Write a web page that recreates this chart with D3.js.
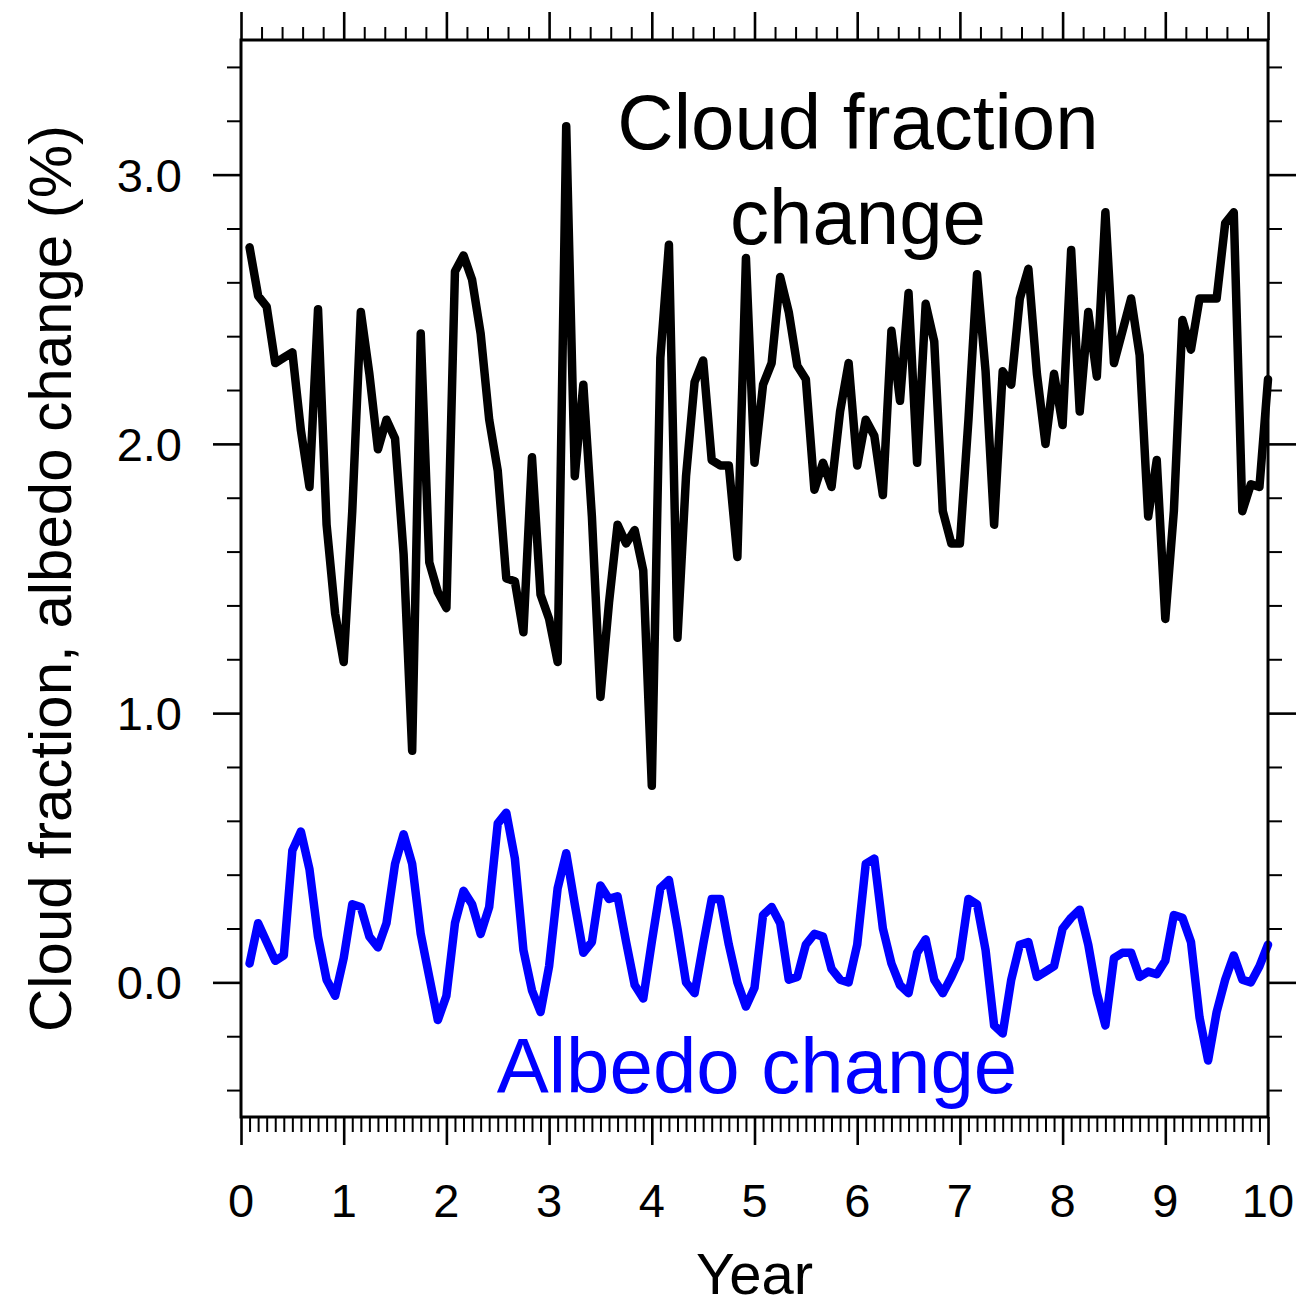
<!DOCTYPE html>
<html>
<head>
<meta charset="utf-8">
<script src="https://cdn.jsdelivr.net/npm/d3@7"></script>
<style>
  html, body { margin: 0; padding: 0; background: #fff; }
  svg { display: block; }
  text { font-family: "Liberation Sans", Arial, Helvetica, sans-serif; }
</style>
</head>
<body>
<svg id="chart" width="1313" height="1307"></svg>
<script>
// Monthly cloud fraction and albedo change (%) over ten years
const months = d3.range(1, 121); // month number, 1..120

const cloudChange = [
  2.73, 2.55, 2.51, 2.30, 2.32, 2.34, 2.05, 1.84, 2.50, 1.70, 1.37, 1.19,
  1.75, 2.49, 2.26, 1.98, 2.09, 2.02, 1.59, 0.86, 2.41, 1.56, 1.45, 1.39,
  2.64, 2.70, 2.61, 2.41, 2.09, 1.90, 1.50, 1.49, 1.30, 1.95, 1.44, 1.35,
  1.19, 3.18, 1.88, 2.22, 1.73, 1.06, 1.41, 1.70, 1.63, 1.68, 1.53, 0.73,
  2.32, 2.74, 1.28, 1.88, 2.23, 2.31, 1.94, 1.92, 1.92, 1.58, 2.69, 1.93,
  2.22, 2.30, 2.62, 2.49, 2.29, 2.24, 1.83, 1.93, 1.84, 2.12, 2.30, 1.92,
  2.09, 2.03, 1.81, 2.42, 2.16, 2.56, 1.93, 2.52, 2.38, 1.75, 1.63, 1.63,
  2.09, 2.63, 2.27, 1.70, 2.27, 2.22, 2.54, 2.65, 2.26, 2.00, 2.26, 2.07,
  2.72, 2.12, 2.49, 2.25, 2.86, 2.30, 2.42, 2.54, 2.33, 1.73, 1.94, 1.35,
  1.75, 2.46, 2.35, 2.54, 2.54, 2.54, 2.82, 2.86, 1.75, 1.85, 1.84, 2.24
];

const albedoChange = [
  0.07, 0.22, 0.15, 0.08, 0.10, 0.49, 0.56, 0.42, 0.17, 0.01, -0.05, 0.09,
  0.29, 0.28, 0.17, 0.13, 0.22, 0.44, 0.55, 0.44, 0.18, 0.02, -0.14, -0.05,
  0.22, 0.34, 0.29, 0.18, 0.28, 0.59, 0.63, 0.46, 0.12, -0.03, -0.11, 0.06,
  0.35, 0.48, 0.29, 0.11, 0.15, 0.36, 0.31, 0.32, 0.15, -0.01, -0.06, 0.15,
  0.35, 0.38, 0.20, 0.00, -0.04, 0.14, 0.31, 0.31, 0.14, 0.00, -0.09, -0.02,
  0.25, 0.28, 0.22, 0.01, 0.02, 0.14, 0.18, 0.17, 0.05, 0.01, 0.00, 0.14,
  0.44, 0.46, 0.20, 0.07, -0.01, -0.04, 0.11, 0.16, 0.01, -0.04, 0.02, 0.09,
  0.31, 0.29, 0.12, -0.16, -0.19, 0.01, 0.14, 0.15, 0.02, 0.04, 0.06, 0.20,
  0.24, 0.27, 0.14, -0.04, -0.16, 0.09, 0.11, 0.11, 0.02, 0.04, 0.03, 0.08,
  0.25, 0.24, 0.15, -0.13, -0.29, -0.11, 0.01, 0.10, 0.01, 0.00, 0.06, 0.14
];

const xTickYears = [0, 1, 2, 3, 4, 5, 6, 7, 8, 9, 10];
const yTickValues = [0, 1, 2, 3];
const yTickLabels = ["0.0", "1.0", "2.0", "3.0"];

const plot = { left: 241, top: 40, right: 1268, bottom: 1117 };

const svg = d3.select("#chart");

const x = d3.scaleLinear().domain([0, 10]).range([plot.left, plot.right]);
const y = d3.scaleLinear().domain([-0.5, 3.5]).range([plot.bottom, plot.top]);

// tick sets
const yearMinorTop = d3.range(0, 50).map(i => i / 5).filter(v => v % 1 !== 0 && v > 0);
const monthMinor = d3.range(1, 120).filter(m => m % 12 !== 0).map(m => m / 12);
const yMinor = d3.range(-2, 18).map(i => +(i * 0.2).toFixed(1)).filter(v => Math.abs(v - Math.round(v)) > 1e-6);

function tickAxis(axisFn, scale, values, size, width) {
  const g = svg.append("g");
  const axis = axisFn(scale).tickValues(values).tickSize(size).tickFormat("");
  g.call(axis);
  g.select(".domain").remove();
  g.selectAll(".tick line").attr("stroke", "#000").attr("stroke-width", width);
  return g;
}

// bottom axis: yearly major, monthly minor
tickAxis(d3.axisBottom, x, monthMinor, 15, 2).attr("transform", `translate(0,${plot.bottom})`);
tickAxis(d3.axisBottom, x, xTickYears, 28, 2.6).attr("transform", `translate(0,${plot.bottom})`);
// top axis: yearly major, 0.2-year minor
tickAxis(d3.axisTop, x, yearMinorTop, 13, 2).attr("transform", `translate(0,${plot.top})`);
tickAxis(d3.axisTop, x, xTickYears, 28, 2.6).attr("transform", `translate(0,${plot.top})`);
// left / right axes
tickAxis(d3.axisLeft, y, yMinor, 14, 2).attr("transform", `translate(${plot.left},0)`);
tickAxis(d3.axisLeft, y, yTickValues, 28, 2.6).attr("transform", `translate(${plot.left},0)`);
tickAxis(d3.axisRight, y, yMinor, 14, 2).attr("transform", `translate(${plot.right},0)`);
tickAxis(d3.axisRight, y, yTickValues, 28, 2.6).attr("transform", `translate(${plot.right},0)`);

// tick labels
svg.append("g").selectAll("text")
  .data(xTickYears).join("text")
  .attr("x", d => x(d)).attr("y", 1217)
  .attr("text-anchor", "middle")
  .attr("font-size", 47)
  .attr("fill", "#000")
  .text(d => d);

svg.append("g").selectAll("text")
  .data(yTickValues).join("text")
  .attr("x", 182).attr("y", d => y(d))
  .attr("dy", "0.36em")
  .attr("text-anchor", "end")
  .attr("font-size", 47)
  .attr("fill", "#000")
  .text((d, i) => yTickLabels[i]);

// series lines
const line = vals => d3.line()
  .x((d, i) => x(months[i] / 12))
  .y(d => y(d))(vals);

svg.append("path")
  .attr("d", line(cloudChange))
  .attr("fill", "none").attr("stroke", "#000").attr("stroke-width", 8.5)
  .attr("stroke-linejoin", "round").attr("stroke-linecap", "round");

svg.append("path")
  .attr("d", line(albedoChange))
  .attr("fill", "none").attr("stroke", "#0000ff").attr("stroke-width", 8.5)
  .attr("stroke-linejoin", "round").attr("stroke-linecap", "round");

// frame
svg.append("rect")
  .attr("x", plot.left).attr("y", plot.top)
  .attr("width", plot.right - plot.left).attr("height", plot.bottom - plot.top)
  .attr("fill", "none").attr("stroke", "#000").attr("stroke-width", 3);

// axis titles
svg.append("text")
  .attr("x", (plot.left + plot.right) / 2).attr("y", 1294)
  .attr("text-anchor", "middle").attr("font-size", 58).attr("fill", "#000")
  .text("Year");

svg.append("text")
  .attr("transform", `translate(71,${(plot.top + plot.bottom) / 2}) rotate(-90)`)
  .attr("text-anchor", "middle").attr("font-size", 60).attr("fill", "#000")
  .text("Cloud fraction, albedo change (%)");

// series annotations
svg.append("text")
  .attr("x", 858).attr("y", 149)
  .attr("text-anchor", "middle").attr("font-size", 78).attr("fill", "#000")
  .text("Cloud fraction");
svg.append("text")
  .attr("x", 858).attr("y", 244)
  .attr("text-anchor", "middle").attr("font-size", 78).attr("fill", "#000")
  .text("change");
svg.append("text")
  .attr("x", 757).attr("y", 1093)
  .attr("text-anchor", "middle").attr("font-size", 78).attr("fill", "#0000ff")
  .text("Albedo change");
</script>
</body>
</html>
